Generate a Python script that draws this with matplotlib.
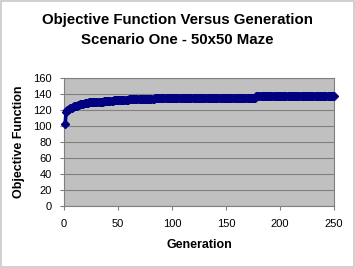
import matplotlib
matplotlib.use("Agg")
import matplotlib.pyplot as plt
from matplotlib.patches import Rectangle

plt.rcParams['font.family'] = ['Liberation Sans', 'DejaVu Sans']

generations = list(range(1, 251))
objective = (
    [102, 117, 119, 120, 121, 122, 122, 123, 124, 124,
     125, 125, 126, 126, 127, 127, 127, 127, 128, 128,
     128, 128, 129, 129, 129, 129, 129, 129, 130, 130,
     130, 130, 130, 130, 130, 130, 131, 131, 131, 131,
     131, 131, 131, 131, 131, 132, 132, 132, 132, 132,
     132, 132, 132, 132, 132, 132, 132, 132, 132]
    + [133] * 24
    + [134] * 46
    + [135] * 48
    + [137] * 73
)
title_line1 = "Objective Function Versus Generation"
title_line2 = "Scenario One - 50x50 Maze"
xlabel_text = "Generation"
ylabel_text = "Objective Function"
xticks = [0, 50, 100, 150, 200, 250]
yticks = [0, 20, 40, 60, 80, 100, 120, 140, 160]

W, H = 355, 268
fig = plt.figure(figsize=(W / 100, H / 100), dpi=100)
fig.patch.set_facecolor('white')
fig.add_artist(Rectangle((0.002, 0.002), 0.996, 0.994, transform=fig.transFigure,
                         fill=False, edgecolor='#c8c8c8', linewidth=1.2))

ax = fig.add_axes([64 / W, 1 - 205.5 / H, (334 - 64) / W, (205.5 - 77.5) / H])
ax.set_facecolor('#c0c0c0')
ax.plot(generations, objective, color='#000080', linewidth=2.6,
        marker='D', markersize=4, markeredgecolor='#000080',
        markerfacecolor='#000080', clip_on=False, zorder=3)
ax.set_xlim(0, 250)
ax.set_ylim(0, 160)
ax.set_xticks(xticks)
ax.set_yticks(yticks)
ax.yaxis.grid(True, color='#808080', linewidth=0.8)
ax.set_axisbelow(True)
for s in ax.spines.values():
    s.set_color('#808080')
    s.set_linewidth(0.8)
ax.tick_params(axis='both', direction='out', length=3, width=0.8, color='#808080',
               labelsize=8, labelcolor='black')
ax.tick_params(axis='x', pad=7)
ax.tick_params(axis='y', pad=6)
ax.set_xlabel(xlabel_text, fontsize=9, fontweight='bold', labelpad=7)
ax.set_ylabel(ylabel_text, fontsize=9, fontweight='bold', labelpad=6)
fig.text(0.5, 1 - 20 / H, title_line1, ha='center', va='center', fontsize=10.8,
         fontweight='bold')
fig.text(0.5, 1 - 40 / H, title_line2, ha='center', va='center', fontsize=10.8,
         fontweight='bold')

fig.savefig("out.png", dpi=100)
